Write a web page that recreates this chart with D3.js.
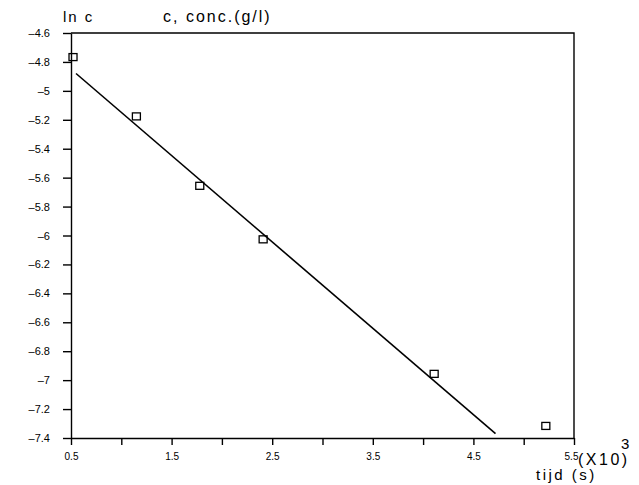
<!DOCTYPE html>
<html>
<head>
<meta charset="utf-8">
<script src="https://cdn.jsdelivr.net/npm/d3@7"></script>
<style>
  body { margin: 0; background: #fff; }
  text { font-family: "Liberation Sans", Arial, sans-serif; fill: #000; }
</style>
</head>
<body>
<div id="root"></div>
<script>
'use strict';

const Root = document.querySelector('#root');

// measured points: tijd (x1000 s), ln c
const tijd   = [0.52, 1.15, 1.78, 2.41, 4.11, 5.22];
const lnc    = [-4.77, -5.18, -5.66, -6.03, -6.96, -7.32];
// fitted line, start and end
const fitX   = [0.55, 4.72];
const fitY   = [-4.88, -7.37];

const xTicks  = [0.5, 1, 1.5, 2, 2.5, 3, 3.5, 4, 4.5, 5, 5.5];
const xLabels = [0.5, 1.5, 2.5, 3.5, 4.5, 5.5];
const yTicks  = [-4.6, -4.8, -5, -5.2, -5.4, -5.6, -5.8, -6, -6.2, -6.4, -6.6, -6.8, -7, -7.2, -7.4];

function draw() {
  const     w = 639,
            h = 485,
         left = 71,
        right = 574,
          top = 33,
       bottom = 438,

          svg = d3.select(Root)
                  .append('svg')
                  .attr('width', w)
                  .attr('height', h),

       xScale = d3.scaleLinear()
                  .domain([0.5, 5.5])
                  .range([left, right]),

       yScale = d3.scaleLinear()
                  .domain([-7.4, -4.6])
                  .range([bottom, top]),

          fmt = (d) => String(+d.toFixed(1)).replace('-', '\u2013');

  // frame top + right
  svg.append('path')
     .attr('d', 'M' + left + ',' + top + 'H' + right + 'V' + bottom)
     .attr('fill', 'none')
     .attr('stroke', '#000')
     .attr('stroke-width', 1.4);

  const xAxis = d3.axisBottom(xScale)
                  .tickValues(xTicks)
                  .tickSize(7)
                  .tickSizeOuter(0)
                  .tickFormat((d) => xLabels.includes(d) ? fmt(d) : '');

  const yAxis = d3.axisLeft(yScale)
                  .tickValues(yTicks)
                  .tickSize(8)
                  .tickSizeOuter(0)
                  .tickFormat(fmt);

  const gx = svg.append('g')
                .attr('id', 'x-axis')
                .attr('transform', 'translate(0, ' + bottom + ')')
                .call(xAxis);

  gx.selectAll('text')
    .attr('y', 15)
    .style('font-size', '10px');

  // 5.5 sits a little left, in front of the multiplier
  gx.selectAll('.tick text')
    .filter((d) => d === 5.5)
    .attr('dx', -3);

  const gy = svg.append('g')
                .attr('id', 'y-axis')
                .attr('transform', 'translate(' + left + ', 0)')
                .call(yAxis);

  gy.selectAll('text')
    .attr('x', -21)
    .style('font-size', '11px');

  svg.selectAll('.domain, .tick line')
     .attr('stroke', '#000')
     .attr('stroke-width', 1.4);

  // fitted line
  svg.append('line')
     .attr('x1', xScale(fitX[0]))
     .attr('y1', yScale(fitY[0]))
     .attr('x2', xScale(fitX[1]))
     .attr('y2', yScale(fitY[1]))
     .attr('stroke', '#000')
     .attr('stroke-width', 1.6);

  // data squares
  svg.selectAll('rect.pt')
     .data(tijd)
     .enter()
     .append('rect')
     .attr('class', 'pt')
     .attr('x', (d) => xScale(d) - 4)
     .attr('y', (d, i) => yScale(lnc[i]) - 4)
     .attr('width', 8)
     .attr('height', 7)
     .attr('fill', 'none')
     .attr('stroke', '#000')
     .attr('stroke-width', 1.3);

  // labels
  svg.append('text')
     .attr('x', 63)
     .attr('y', 22)
     .style('font-size', '15px')
     .style('letter-spacing', '2px')
     .text('ln c');

  svg.append('text')
     .attr('x', 163)
     .attr('y', 22)
     .style('font-size', '16px')
     .style('letter-spacing', '2px')
     .text('c, conc.(g/l)');

  svg.append('text')
     .attr('x', 578)
     .attr('y', 465)
     .style('font-size', '16px')
     .style('letter-spacing', '2.5px')
     .text('(X10)');

  svg.append('text')
     .attr('x', 621)
     .attr('y', 449)
     .style('font-size', '15px')
     .text('3');

  svg.append('text')
     .attr('x', 536)
     .attr('y', 480)
     .style('font-size', '15px')
     .style('letter-spacing', '2.5px')
     .text('tijd (s)');
}

draw();
</script>
</body>
</html>
